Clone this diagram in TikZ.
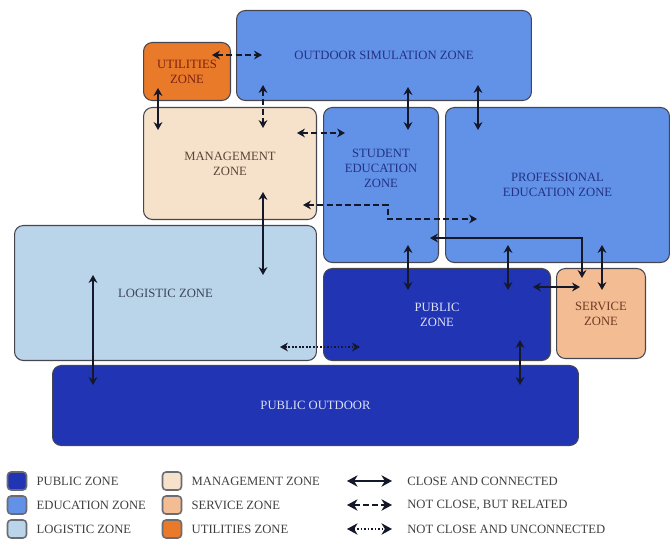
\documentclass[tikz,border=0pt]{standalone}
\usepackage{fontspec}
\setmainfont{Liberation Serif}
\usetikzlibrary{arrows.meta,positioning}

\definecolor{edublue}{RGB}{98,146,232}
\definecolor{pubblue}{RGB}{32,52,180}
\definecolor{logblue}{RGB}{186,212,234}
\definecolor{mgmtpeach}{RGB}{246,226,202}
\definecolor{servpeach}{RGB}{244,188,146}
\definecolor{utilorange}{RGB}{232,122,42}
\definecolor{zoneline}{RGB}{70,70,80}
\definecolor{arrowline}{RGB}{20,24,40}
\definecolor{navytext}{RGB}{35,50,130}
\definecolor{utiltext}{RGB}{125,35,15}
\definecolor{mgmttext}{RGB}{90,70,55}
\definecolor{logtext}{RGB}{60,70,90}
\definecolor{servtext}{RGB}{110,60,35}
\definecolor{pubtext}{RGB}{220,225,245}

\begin{document}
\begin{tikzpicture}[x=0.02cm, y=-0.02cm,
        zone/.style={rounded corners=5pt, draw=zoneline, line width=0.6pt, anchor=north west, align=center, font=\fontsize{7.2}{8.4}\selectfont},
        key/.style={rounded corners=2pt, draw=zoneline!80, line width=0.9pt, minimum width=0.38cm, minimum height=0.36cm, inner sep=0pt},
        keytext/.style={anchor=west, font=\fontsize{7.2}{8.4}\selectfont, text=black!75, inner sep=0pt},
        link/.style={{Stealth[length=4.5pt,width=5pt]}-{Stealth[length=4.5pt,width=5pt]}, line width=1.2pt, draw=arrowline},
        keylink/.style={{Stealth[length=6pt,width=6.5pt]}-{Stealth[length=6pt,width=6.5pt]}, line width=1.5pt, draw=arrowline},
        connected/.style={link},
        related/.style={link, dash pattern=on 3.5pt off 1.8pt},
        unrelated/.style={link, dash pattern=on 1pt off 1pt}]
        \useasboundingbox (0,0) rectangle (670,540);

        % Define nodes
        \node[zone, fill=edublue, text=navytext, minimum width=5.9cm, minimum height=1.8cm] (outdoor) at (236,10) {OUTDOOR SIMULATION ZONE};
        \node[zone, fill=utilorange, text=utiltext, minimum width=1.74cm, minimum height=1.16cm] (utilities) at (143,42) {UTILITIES\\ZONE};
        \node[zone, fill=mgmtpeach, text=mgmttext, minimum width=3.46cm, minimum height=2.24cm] (management) at (143,107) {MANAGEMENT\\ZONE};
        \node[zone, fill=edublue, minimum width=2.3cm, minimum height=3.1cm] (student) at (323,107) {};
        \node[align=center, text=navytext, font=\fontsize{7.2}{8.4}\selectfont] (student_label) at ([yshift=0.33cm]student.center) {STUDENT\\EDUCATION\\ZONE};
        \node[zone, fill=edublue, text=navytext, minimum width=4.48cm, minimum height=3.1cm] (professional) at (445,107) {PROFESSIONAL\\EDUCATION ZONE};
        \node[zone, fill=logblue, text=logtext, minimum width=6.04cm, minimum height=2.7cm] (logistic) at (14,225) {LOGISTIC ZONE};
        \node[zone, fill=pubblue, text=pubtext, minimum width=4.54cm, minimum height=1.84cm] (public) at (323,268) {PUBLIC\\ZONE};
        \node[zone, fill=servpeach, text=servtext, minimum width=1.78cm, minimum height=1.8cm] (service) at (556,268) {SERVICE\\ZONE};
        \node[zone, fill=pubblue, text=pubtext, minimum width=10.52cm, minimum height=1.6cm] (public_outdoor) at (52,365) {PUBLIC OUTDOOR};

        % Draw arrows
        \draw[related] ([shift={(69,13)}]utilities.north west) -- ([shift={(26,45)}]outdoor.north west);
        \draw[connected] ([shift={(15,46)}]utilities.north west) -- ([shift={(15,23)}]management.north west);
        \draw[related] ([shift={(27,75)}]outdoor.north west) -- ([shift={(120,21)}]management.north west);
        \draw[related] ([shift={(154,26)}]management.north west) -- ([shift={(22,26)}]student.north west);
        \draw[connected] ([shift={(172,77)}]outdoor.north west) -- ([shift={(85,23)}]student.north west);
        \draw[connected] ([shift={(242,75)}]outdoor.north west) -- ([shift={(33,23)}]professional.north west);
        \draw[related] ([shift={(160,98)}]management.north west) -- ++(85,0) |- ([shift={(32,112)}]professional.north west);
        \draw[connected] ([shift={(120,85)}]management.north west) -- ([shift={(249,50)}]logistic.north west);
        \draw[connected] ([shift={(79,50)}]logistic.north west) -- ([shift={(41,20)}]public_outdoor.north west);
        \draw[unrelated] ([shift={(266,122)}]logistic.north west) -- ([shift={(37,79)}]public.north west);
        \draw[connected] ([shift={(85,138)}]student.north west) -- ([shift={(85,22)}]public.north west);
        \draw[connected] ([shift={(63,138)}]professional.north west) -- ([shift={(185,22)}]public.north west);
        \draw[connected] ([shift={(210,19)}]public.north west) -- ([shift={(24,19)}]service.north west);
        \draw[connected] ([shift={(157,138)}]professional.north west) -- ([shift={(46,22)}]service.north west);
        \draw[connected] ([shift={(107,131)}]student.north west) -| ([shift={(26,10)}]service.north west);
        \draw[connected] ([shift={(197,72)}]public.north west) -- ([shift={(468,20)}]public_outdoor.north west);

        % Legend
        \node[key, fill=pubblue] (key_public) at (17,481) {};
        \node[keytext, right=0.18cm of key_public] {PUBLIC ZONE};
        \node[key, fill=edublue] (key_education) at (17,505) {};
        \node[keytext, right=0.18cm of key_education] {EDUCATION ZONE};
        \node[key, fill=logblue] (key_logistic) at (17,529) {};
        \node[keytext, right=0.18cm of key_logistic] {LOGISTIC ZONE};
        \node[key, fill=mgmtpeach] (key_management) at (172,481) {};
        \node[keytext, right=0.18cm of key_management] {MANAGEMENT ZONE};
        \node[key, fill=servpeach] (key_service) at (172,505) {};
        \node[keytext, right=0.18cm of key_service] {SERVICE ZONE};
        \node[key, fill=utilorange] (key_utilities) at (172,529) {};
        \node[keytext, right=0.18cm of key_utilities] {UTILITIES ZONE};
        \node[keytext] (txt_connected) at (407,481) {CLOSE AND CONNECTED};
        \node[keytext] (txt_related) at (407,505) {NOT CLOSE, BUT RELATED};
        \node[keytext] (txt_unrelated) at (407,529) {NOT CLOSE AND UNCONNECTED};
        \draw[keylink] ([xshift=-1.2cm]txt_connected.west) -- ([xshift=-0.3cm]txt_connected.west);
        \draw[keylink, dash pattern=on 3.5pt off 1.8pt] ([xshift=-1.2cm]txt_related.west) -- ([xshift=-0.3cm]txt_related.west);
        \draw[keylink, dash pattern=on 1pt off 1pt] ([xshift=-1.2cm]txt_unrelated.west) -- ([xshift=-0.3cm]txt_unrelated.west);
    \end{tikzpicture}
\end{document}
